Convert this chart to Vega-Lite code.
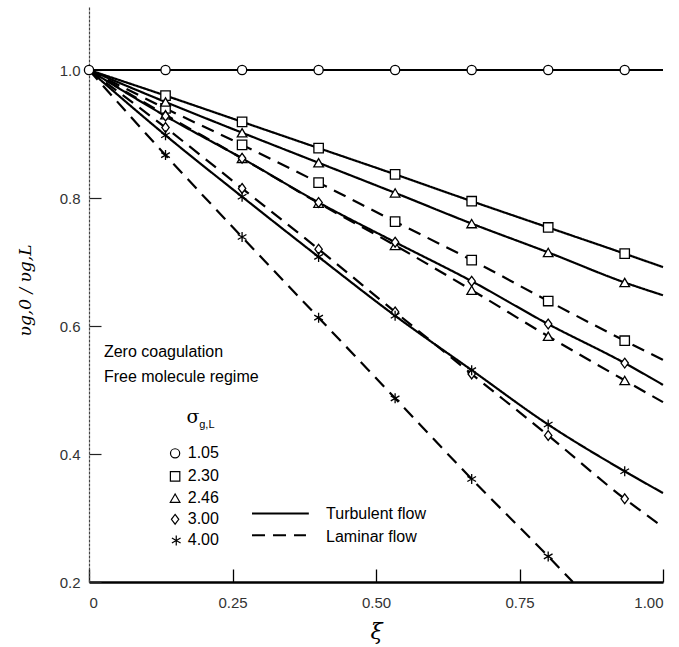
{
  "$schema": "https://vega.github.io/schema/vega-lite/v6.json",
  "width": 574,
  "height": 576,
  "autosize": "none",
  "padding": {"left": 89, "top": 6, "right": 16, "bottom": 65},
  "config": {"view": {"stroke": null}, "font": "Liberation Sans"},
  "datasets": {
    "curves": [
      {"sigma": "1.05", "flow": "Turbulent", "xi": 0, "y": 1},
      {"sigma": "1.05", "flow": "Turbulent", "xi": 0.1333, "y": 1},
      {"sigma": "1.05", "flow": "Turbulent", "xi": 0.2667, "y": 1},
      {"sigma": "1.05", "flow": "Turbulent", "xi": 0.4, "y": 1},
      {"sigma": "1.05", "flow": "Turbulent", "xi": 0.5333, "y": 1},
      {"sigma": "1.05", "flow": "Turbulent", "xi": 0.6667, "y": 1},
      {"sigma": "1.05", "flow": "Turbulent", "xi": 0.8, "y": 1},
      {"sigma": "1.05", "flow": "Turbulent", "xi": 0.9333, "y": 1},
      {"sigma": "1.05", "flow": "Turbulent", "xi": 1.0, "y": 1},

      {"sigma": "2.30", "flow": "Turbulent", "xi": 0, "y": 1},
      {"sigma": "2.30", "flow": "Turbulent", "xi": 0.1333, "y": 0.960},
      {"sigma": "2.30", "flow": "Turbulent", "xi": 0.2667, "y": 0.919},
      {"sigma": "2.30", "flow": "Turbulent", "xi": 0.4, "y": 0.878},
      {"sigma": "2.30", "flow": "Turbulent", "xi": 0.5333, "y": 0.837},
      {"sigma": "2.30", "flow": "Turbulent", "xi": 0.6667, "y": 0.795},
      {"sigma": "2.30", "flow": "Turbulent", "xi": 0.8, "y": 0.754},
      {"sigma": "2.30", "flow": "Turbulent", "xi": 0.9333, "y": 0.713},
      {"sigma": "2.30", "flow": "Turbulent", "xi": 1.0, "y": 0.692},

      {"sigma": "2.30", "flow": "Laminar", "xi": 0, "y": 1},
      {"sigma": "2.30", "flow": "Laminar", "xi": 0.1333, "y": 0.940},
      {"sigma": "2.30", "flow": "Laminar", "xi": 0.2667, "y": 0.883},
      {"sigma": "2.30", "flow": "Laminar", "xi": 0.4, "y": 0.824},
      {"sigma": "2.30", "flow": "Laminar", "xi": 0.5333, "y": 0.763},
      {"sigma": "2.30", "flow": "Laminar", "xi": 0.6667, "y": 0.703},
      {"sigma": "2.30", "flow": "Laminar", "xi": 0.8, "y": 0.639},
      {"sigma": "2.30", "flow": "Laminar", "xi": 0.9333, "y": 0.577},
      {"sigma": "2.30", "flow": "Laminar", "xi": 1.0, "y": 0.547},

      {"sigma": "2.46", "flow": "Turbulent", "xi": 0, "y": 1},
      {"sigma": "2.46", "flow": "Turbulent", "xi": 0.1333, "y": 0.950},
      {"sigma": "2.46", "flow": "Turbulent", "xi": 0.2667, "y": 0.902},
      {"sigma": "2.46", "flow": "Turbulent", "xi": 0.4, "y": 0.855},
      {"sigma": "2.46", "flow": "Turbulent", "xi": 0.5333, "y": 0.808},
      {"sigma": "2.46", "flow": "Turbulent", "xi": 0.6667, "y": 0.760},
      {"sigma": "2.46", "flow": "Turbulent", "xi": 0.8, "y": 0.715},
      {"sigma": "2.46", "flow": "Turbulent", "xi": 0.9333, "y": 0.668},
      {"sigma": "2.46", "flow": "Turbulent", "xi": 1.0, "y": 0.648},

      {"sigma": "2.46", "flow": "Laminar", "xi": 0, "y": 1},
      {"sigma": "2.46", "flow": "Laminar", "xi": 0.1333, "y": 0.930},
      {"sigma": "2.46", "flow": "Laminar", "xi": 0.2667, "y": 0.862},
      {"sigma": "2.46", "flow": "Laminar", "xi": 0.4, "y": 0.792},
      {"sigma": "2.46", "flow": "Laminar", "xi": 0.5333, "y": 0.726},
      {"sigma": "2.46", "flow": "Laminar", "xi": 0.6667, "y": 0.656},
      {"sigma": "2.46", "flow": "Laminar", "xi": 0.8, "y": 0.584},
      {"sigma": "2.46", "flow": "Laminar", "xi": 0.9333, "y": 0.515},
      {"sigma": "2.46", "flow": "Laminar", "xi": 1.0, "y": 0.481},

      {"sigma": "3.00", "flow": "Turbulent", "xi": 0, "y": 1},
      {"sigma": "3.00", "flow": "Turbulent", "xi": 0.1333, "y": 0.928},
      {"sigma": "3.00", "flow": "Turbulent", "xi": 0.2667, "y": 0.862},
      {"sigma": "3.00", "flow": "Turbulent", "xi": 0.4, "y": 0.793},
      {"sigma": "3.00", "flow": "Turbulent", "xi": 0.5333, "y": 0.731},
      {"sigma": "3.00", "flow": "Turbulent", "xi": 0.6667, "y": 0.670},
      {"sigma": "3.00", "flow": "Turbulent", "xi": 0.8, "y": 0.603},
      {"sigma": "3.00", "flow": "Turbulent", "xi": 0.9333, "y": 0.542},
      {"sigma": "3.00", "flow": "Turbulent", "xi": 1.0, "y": 0.508},

      {"sigma": "3.00", "flow": "Laminar", "xi": 0, "y": 1},
      {"sigma": "3.00", "flow": "Laminar", "xi": 0.1333, "y": 0.910},
      {"sigma": "3.00", "flow": "Laminar", "xi": 0.2667, "y": 0.815},
      {"sigma": "3.00", "flow": "Laminar", "xi": 0.4, "y": 0.720},
      {"sigma": "3.00", "flow": "Laminar", "xi": 0.5333, "y": 0.622},
      {"sigma": "3.00", "flow": "Laminar", "xi": 0.6667, "y": 0.525},
      {"sigma": "3.00", "flow": "Laminar", "xi": 0.8, "y": 0.429},
      {"sigma": "3.00", "flow": "Laminar", "xi": 0.9333, "y": 0.330},
      {"sigma": "3.00", "flow": "Laminar", "xi": 1.0, "y": 0.286},

      {"sigma": "4.00", "flow": "Turbulent", "xi": 0, "y": 1},
      {"sigma": "4.00", "flow": "Turbulent", "xi": 0.1333, "y": 0.898},
      {"sigma": "4.00", "flow": "Turbulent", "xi": 0.2667, "y": 0.802},
      {"sigma": "4.00", "flow": "Turbulent", "xi": 0.4, "y": 0.708},
      {"sigma": "4.00", "flow": "Turbulent", "xi": 0.5333, "y": 0.616},
      {"sigma": "4.00", "flow": "Turbulent", "xi": 0.6667, "y": 0.531},
      {"sigma": "4.00", "flow": "Turbulent", "xi": 0.8, "y": 0.446},
      {"sigma": "4.00", "flow": "Turbulent", "xi": 0.9333, "y": 0.373},
      {"sigma": "4.00", "flow": "Turbulent", "xi": 1.0, "y": 0.339},

      {"sigma": "4.00", "flow": "Laminar", "xi": 0, "y": 1},
      {"sigma": "4.00", "flow": "Laminar", "xi": 0.1333, "y": 0.867},
      {"sigma": "4.00", "flow": "Laminar", "xi": 0.2667, "y": 0.739},
      {"sigma": "4.00", "flow": "Laminar", "xi": 0.4, "y": 0.613},
      {"sigma": "4.00", "flow": "Laminar", "xi": 0.5333, "y": 0.487},
      {"sigma": "4.00", "flow": "Laminar", "xi": 0.6667, "y": 0.361},
      {"sigma": "4.00", "flow": "Laminar", "xi": 0.8, "y": 0.240},
      {"sigma": "4.00", "flow": "Laminar", "xi": 0.843, "y": 0.2}
    ],
    "legendSymbols": [
      {"sigma": "1.05", "xi": 0.150, "y": 0.401},
      {"sigma": "2.30", "xi": 0.150, "y": 0.365},
      {"sigma": "2.46", "xi": 0.150, "y": 0.331},
      {"sigma": "3.00", "xi": 0.150, "y": 0.298},
      {"sigma": "4.00", "xi": 0.152, "y": 0.265}
    ],
    "legendLines": [
      {"flow": "Turbulent", "xi": 0.284, "xi2": 0.383, "y": 0.307},
      {"flow": "Laminar", "xi": 0.284, "xi2": 0.378, "y": 0.273}
    ],
    "notes": [
      {"text": "Zero coagulation", "xi": 0.026, "y": 0.559},
      {"text": "Free molecule regime", "xi": 0.026, "y": 0.520},
      {"text": "1.05", "xi": 0.172, "y": 0.401},
      {"text": "2.30", "xi": 0.172, "y": 0.365},
      {"text": "2.46", "xi": 0.172, "y": 0.331},
      {"text": "3.00", "xi": 0.172, "y": 0.298},
      {"text": "4.00", "xi": 0.172, "y": 0.265},
      {"text": "Turbulent flow", "xi": 0.413, "y": 0.307},
      {"text": "Laminar flow", "xi": 0.413, "y": 0.271}
    ],
    "sigmaLabel": [
      {"text": "σ", "xi": 0.170, "y": 0.458}
    ],
    "sigmaSub": [
      {"text": "g,L", "xi": 0.192, "y": 0.446}
    ]
  },
  "layer": [
    {
      "data": {"name": "curves"},
      "mark": {"type": "line", "interpolate": "monotone", "strokeWidth": 2.2, "color": "black"},
      "encoding": {
        "x": {
          "field": "xi", "type": "quantitative",
          "scale": {"domain": [0, 1], "nice": false, "zero": false},
          "axis": {
            "values": [0, 0.25, 0.5, 0.75, 1],
            "labelExpr": "datum.value == 0 ? '0' : format(datum.value, '.2f')",
            "grid": false,
            "tickSize": -13, "tickColor": "black", "tickWidth": 1.3,
            "labelPadding": 26, "labelFontSize": 15, "labelColor": "#333",
            "domainColor": "black", "domainWidth": 2.5,
            "title": "ξ", "titleFont": "DejaVu Serif", "titleFontStyle": "italic",
            "titleFontSize": 22, "titleFontWeight": "normal", "titlePadding": 11, "titleColor": "black"
          }
        },
        "y": {
          "field": "y", "type": "quantitative",
          "scale": {"domain": [0.2, 1.1], "nice": false, "zero": false},
          "axis": {
            "values": [0.2, 0.4, 0.6, 0.8, 1.0],
            "format": ".1f",
            "grid": false,
            "tickSize": -12, "tickColor": "#222", "tickWidth": 1.2,
            "labelPadding": 21, "labelFontSize": 15, "labelColor": "#333",
            "domainColor": "#444", "domainWidth": 1.2, "domainDash": [3, 1],
            "title": "υg,0 / υg,L", "titleFont": "DejaVu Serif", "titleFontStyle": "italic",
            "titleFontSize": 17, "titleFontWeight": "normal", "titleColor": "black",
            "titleX": -64, "titleY": 284, "titleAngle": -90, "titleAlign": "center", "titleBaseline": "middle"
          }
        },
        "detail": [{"field": "sigma"}, {"field": "flow"}],
        "strokeDash": {
          "field": "flow", "type": "nominal",
          "scale": {"domain": ["Turbulent", "Laminar"], "range": [[1, 0], [13, 8]]},
          "legend": null
        }
      }
    },
    {
      "data": {"name": "curves"},
      "transform": [{"filter": "(datum.xi > 0.05 || datum.sigma == '1.05') && datum.xi < 0.95 && datum.y > 0.21"}],
      "mark": {"type": "point", "fill": "white", "stroke": "black", "strokeWidth": 1.3, "opacity": 1},
      "encoding": {
        "x": {"field": "xi", "type": "quantitative"},
        "y": {"field": "y", "type": "quantitative"},
        "shape": {
          "field": "sigma", "type": "nominal",
          "scale": {"domain": ["1.05", "2.30", "2.46", "3.00", "4.00"],
                    "range": ["circle", "square", "triangle-up", "M0,-1L0.75,0L0,1L-0.75,0Z", "M0,-1L0,1M-0.87,-0.5L0.87,0.5M-0.87,0.5L0.87,-0.5"]},
          "legend": null
        },
        "size": {
          "field": "sigma", "type": "nominal",
          "scale": {"domain": ["1.05", "2.30", "2.46", "3.00", "4.00"], "range": [85, 100, 95, 130, 30]},
          "legend": null
        }
      }
    },
    {
      "data": {"name": "legendSymbols"},
      "mark": {"type": "point", "fill": "white", "stroke": "black", "strokeWidth": 1.2, "opacity": 1},
      "encoding": {
        "x": {"field": "xi", "type": "quantitative"},
        "y": {"field": "y", "type": "quantitative"},
        "shape": {"field": "sigma", "type": "nominal", "legend": null},
        "size": {"field": "sigma", "type": "nominal", "legend": null}
      }
    },
    {
      "data": {"name": "legendLines"},
      "mark": {"type": "rule", "strokeWidth": 2, "color": "black"},
      "encoding": {
        "x": {"field": "xi", "type": "quantitative"},
        "x2": {"field": "xi2"},
        "y": {"field": "y", "type": "quantitative"},
        "strokeDash": {"field": "flow", "type": "nominal", "legend": null}
      }
    },
    {
      "data": {"name": "notes"},
      "mark": {"type": "text", "align": "left", "baseline": "middle", "fontSize": 16, "color": "black"},
      "encoding": {
        "x": {"field": "xi", "type": "quantitative"},
        "y": {"field": "y", "type": "quantitative"},
        "text": {"field": "text"}
      }
    },
    {
      "data": {"name": "sigmaLabel"},
      "mark": {"type": "text", "align": "left", "baseline": "middle", "fontSize": 19, "font": "DejaVu Serif", "color": "black"},
      "encoding": {
        "x": {"field": "xi", "type": "quantitative"},
        "y": {"field": "y", "type": "quantitative"},
        "text": {"field": "text"}
      }
    },
    {
      "data": {"name": "sigmaSub"},
      "mark": {"type": "text", "align": "left", "baseline": "middle", "fontSize": 11, "color": "black"},
      "encoding": {
        "x": {"field": "xi", "type": "quantitative"},
        "y": {"field": "y", "type": "quantitative"},
        "text": {"field": "text"}
      }
    }
  ]
}
